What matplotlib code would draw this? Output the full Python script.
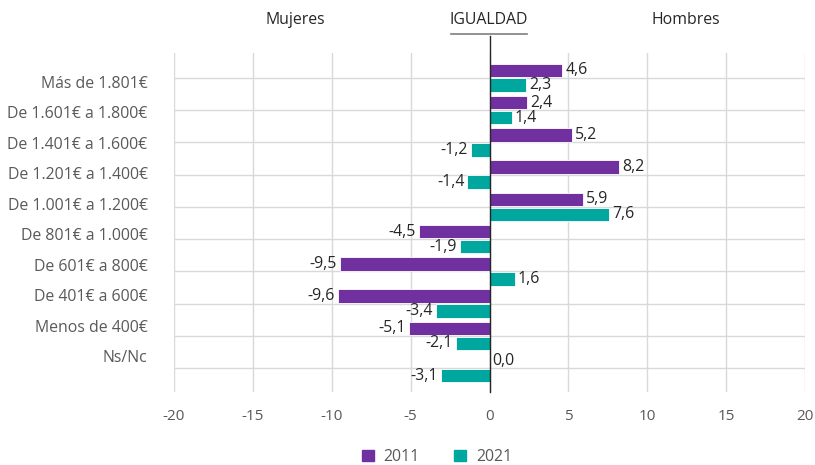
import matplotlib
matplotlib.use("Agg")
import matplotlib.pyplot as plt
import numpy as np
from matplotlib.patches import Patch

plt.rcParams['font.family'] = ['Open Sans', 'DejaVu Sans']

categories = ["Más de 1.801€", "De 1.601€ a 1.800€", "De 1.401€ a 1.600€",
              "De 1.201€ a 1.400€", "De 1.001€ a 1.200€", "De 801€ a 1.000€",
              "De 601€ a 800€", "De 401€ a 600€", "Menos de 400€", "Ns/Nc"]
v2011 = [4.6, 2.4, 5.2, 8.2, 5.9, -4.5, -9.5, -9.6, -5.1, 0.0]
v2021 = [2.3, 1.4, -1.2, -1.4, 7.6, -1.9, 1.6, -3.4, -2.1, -3.1]
xticks = [-20, -15, -10, -5, 0, 5, 10, 15, 20]
series_names = ["2011", "2021"]

c2011 = "#7030A0"
c2021 = "#00A79F"
grid_c = "#D9D9D9"
text_c = "#595959"
val_c = "#262626"

fig = plt.figure(figsize=(8.15, 4.65), dpi=100)
ax = fig.add_axes([174/815, 1-392/465, (805-174)/815, (392-53)/465])

n = len(categories)
pos = np.arange(n)
h = 0.42
off = 0.23

ax.barh(pos - off, v2011, height=h, color=c2011, edgecolor='white', linewidth=0.6, zorder=3)
ax.barh(pos + off, v2021, height=h, color=c2021, edgecolor='white', linewidth=0.6, zorder=3)

ax.set_xlim(-20, 20)
ax.set_ylim(n - 1 + 0.74, -0.77)

for x in xticks:
    ax.axvline(x, color=grid_c, lw=1, zorder=1)
ax.hlines(pos, -20, 20, color=grid_c, lw=1, zorder=1)

for s in ax.spines.values():
    s.set_visible(False)

ax.set_xticks(xticks)
ax.set_xticklabels([str(t) for t in xticks], color=text_c, fontsize=11)
ax.tick_params(axis='x', length=0, pad=12)

label_pos = np.linspace(0.12, 8.63, n)
ax.set_yticks(label_pos)
ax.set_yticklabels(categories, color=text_c, fontsize=11.4)
ax.tick_params(axis='y', length=0, pad=19)

def fmt(v):
    return f"{v:.1f}".replace(".", ",")

for vals, o in ((v2011, -off), (v2021, off)):
    for i, v in enumerate(vals):
        if v >= 0:
            ax.text(v + 0.2, i + o, fmt(v), ha='left', va='center', fontsize=11.4, color=val_c, zorder=4)
        else:
            ax.text(v - 0.2, i + o, fmt(v), ha='right', va='center', fontsize=11.4, color=val_c, zorder=4)

ax.plot([0, 0], [n - 1 + 0.74, -1.3], color="#262626", lw=1, zorder=5, clip_on=False)

fig.text(295/815, 1-20/465, "Mujeres", ha='center', va='center', fontsize=11.4, color=val_c)
fig.text(489/815, 1-20/465, "IGUALDAD", ha='center', va='center', fontsize=11.4, color=val_c)
fig.text(686/815, 1-20/465, "Hombres", ha='center', va='center', fontsize=11.4, color=val_c)
fig.add_artist(plt.Line2D([451/815, 527/815], [1-34/465, 1-34/465], color="#7F7F7F", lw=1.2))

handles = [Patch(color=c2011), Patch(color=c2021)]
fig.legend(handles, series_names, loc='center', bbox_to_anchor=(437/815, 1-457/465),
           ncol=2, frameon=False, fontsize=11.4, handlelength=0.75, handleheight=0.75,
           columnspacing=2.2, handletextpad=0.6, labelcolor=text_c)

fig.savefig("out.png", dpi=100)
